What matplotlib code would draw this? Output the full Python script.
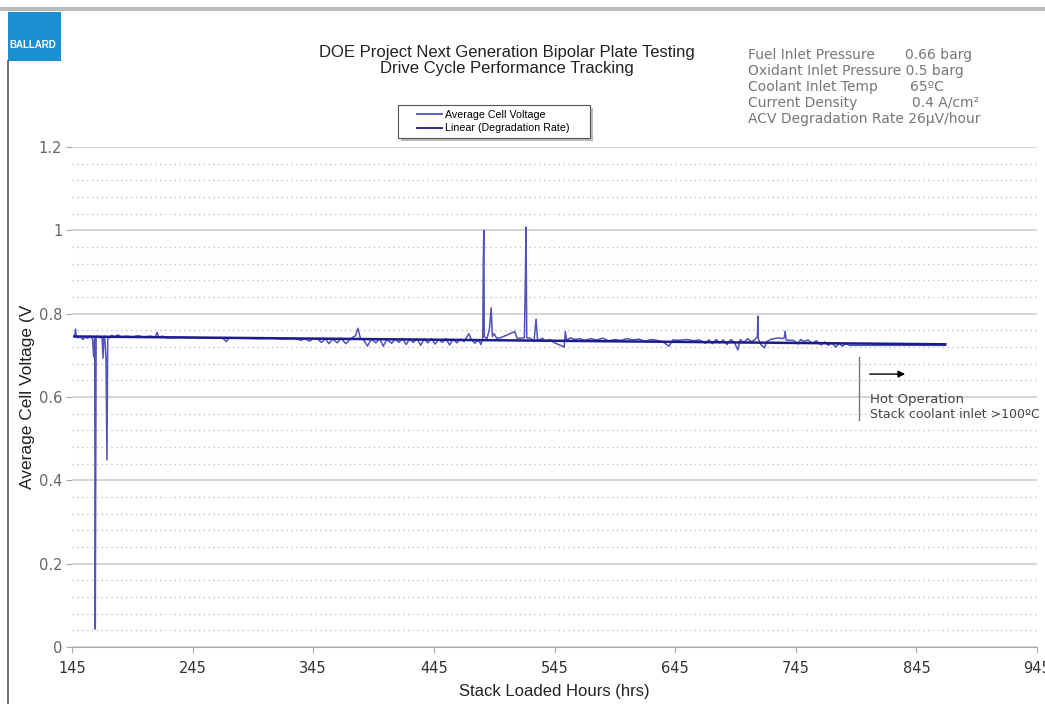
import numpy as np
import matplotlib
matplotlib.use("Agg")
from matplotlib import pyplot as plt
from matplotlib.patches import Rectangle
from matplotlib.lines import Line2D

# Average cell voltage samples (hours, volts)
hours = [147, 148, 148.5, 150, 152, 154, 156, 158, 160, 162, 163, 163.8, 164.3, 165,
         166, 168, 170, 170.7, 171.3, 172, 173.2, 174, 174.6, 176,
         178, 180, 183, 186, 190, 195, 200, 204, 210, 214, 215.5, 217, 220, 224,
         235, 250, 260, 270, 273, 275, 290, 300, 310, 320, 330, 335, 338, 342, 345,
         348, 352, 355, 358, 361, 365, 368, 372, 376, 380, 382, 384, 387, 390, 393,
         397, 400, 403, 406, 410, 413, 416, 419, 422, 425, 428, 431, 434, 437, 440,
         443, 446, 449, 452, 455, 458, 461, 464, 467, 470, 474, 476, 479, 482, 484,
         485.5, 486, 486.4, 486.8, 489, 491, 492.5, 493.5, 495, 497, 500, 505, 512,
         514, 517, 520, 520.8, 521.4, 522, 525, 528, 529.7, 531, 535, 538, 541, 545,
         550, 553, 554, 555, 558, 562, 566, 570, 575, 580, 585, 590, 595, 600, 605,
         610, 615, 620, 625, 630, 635, 640, 643, 648, 655, 660, 665, 670, 673, 676,
         679, 682, 685, 688, 691, 694, 697, 699, 702, 705, 708, 711, 713.2, 713.6,
         714, 716, 719, 721, 724, 727, 731, 734, 735.5, 736.2, 737, 740, 743, 747,
         749, 752, 755, 759, 762, 766, 769, 772, 775, 778, 781, 784, 786, 790, 796,
         869]
volts = [0.745, 0.763, 0.744, 0.742, 0.745, 0.738, 0.744, 0.741, 0.746, 0.740, 0.696, 0.743, 0.043, 0.742,
         0.746, 0.742, 0.744, 0.693, 0.745, 0.746, 0.692, 0.449, 0.745, 0.742,
         0.748, 0.744, 0.749, 0.744, 0.746, 0.744, 0.747, 0.744, 0.746, 0.744, 0.755, 0.744, 0.746, 0.742,
         0.743, 0.742, 0.741, 0.741, 0.733, 0.741, 0.741, 0.740, 0.741, 0.739, 0.740, 0.736, 0.740, 0.734, 0.740,
         0.740, 0.731, 0.740, 0.728, 0.739, 0.730, 0.741, 0.728, 0.740, 0.747, 0.765, 0.742, 0.736, 0.722, 0.739,
         0.730, 0.740, 0.722, 0.738, 0.729, 0.739, 0.731, 0.741, 0.726, 0.739, 0.731, 0.740, 0.724, 0.739, 0.730,
         0.740, 0.727, 0.738, 0.731, 0.740, 0.725, 0.739, 0.730, 0.739, 0.733, 0.752, 0.738, 0.729, 0.737, 0.726,
         0.740, 0.930, 1.000, 0.745, 0.740, 0.762, 0.814, 0.745, 0.752, 0.741, 0.742, 0.748, 0.757,
         0.741, 0.741, 0.742, 0.873, 1.008, 0.742, 0.741, 0.733, 0.787, 0.735, 0.741, 0.733, 0.738, 0.730,
         0.724, 0.720, 0.757, 0.736, 0.742, 0.738, 0.740, 0.736, 0.740, 0.737, 0.741, 0.735, 0.738, 0.736, 0.740,
         0.737, 0.739, 0.734, 0.738, 0.736, 0.732, 0.722, 0.737, 0.736, 0.738, 0.735, 0.737, 0.729, 0.737, 0.728,
         0.738, 0.730, 0.737, 0.726, 0.738, 0.732, 0.713, 0.738, 0.731, 0.740, 0.733, 0.737, 0.745, 0.794,
         0.740, 0.726, 0.718, 0.733, 0.738, 0.740, 0.742, 0.740, 0.742, 0.758, 0.737, 0.736, 0.736, 0.727,
         0.738, 0.733, 0.737, 0.729, 0.735, 0.725, 0.732, 0.724, 0.730, 0.720, 0.728, 0.722, 0.728, 0.724, 0.724,
         0.724]

# Linear fit endpoints (26 uV/hour)
trend_hours = [147, 869]
trend_volts = [0.7453, 0.7265]

x_ticks = [145, 245, 345, 445, 545, 645, 745, 845, 945]
y_ticks = [0, 0.2, 0.4, 0.6, 0.8, 1, 1.2]

info_labels = ["Fuel Inlet Pressure", "Oxidant Inlet Pressure 0.5 barg", "Coolant Inlet Temp",
               "Current Density", "ACV Degradation Rate 26\u00b5V/hour"]
info_values = ["0.66 barg", "", "65\u00baC", "0.4 A/cm\u00b2", ""]

narrow = ["Liberation Sans Narrow", "Liberation Sans", "DejaVu Sans"]

fig = plt.figure(figsize=(10.45, 7.04), dpi=100)
W, H = 1045.0, 704.0
ax = fig.add_axes([72 / W, 1 - 647 / H, (1037 - 72) / W, (647 - 147) / H])

l1, = ax.plot(hours, volts, color="#5252b8", lw=1.1, label="Average Cell Voltage", zorder=3)
l2, = ax.plot(trend_hours, trend_volts, color="#1c1c8c", lw=1.8, label="Linear (Degradation Rate)", zorder=4)

ax.set_xlim(145, 945)
ax.set_ylim(0, 1.2)
ax.set_xticks(x_ticks)
ax.set_yticks(y_ticks)
ax.set_yticklabels(["0", "0.2", "0.4", "0.6", "0.8", "1", "1.2"])
ax.set_yticks(np.arange(0, 1.2001, 0.04), minor=True)
ax.grid(True, axis="y", which="major", color="#cfcfcf", lw=1.2)
ax.grid(True, axis="y", which="minor", color="#c4c4c4", lw=1.0, linestyle=(0, (1, 2.5)))
ax.tick_params(axis="y", which="minor", length=0)
ax.tick_params(axis="y", which="major", length=4, color="#aaaaaa", labelcolor="#666666", labelsize=10.5, pad=3)
ax.tick_params(axis="x", length=4, color="#aaaaaa", labelcolor="#333333", labelsize=10.5, pad=6)
for s in ["top", "right", "left"]:
    ax.spines[s].set_visible(False)
ax.spines["bottom"].set_color("#aaaaaa")
ax.set_axisbelow(True)

ax.set_xlabel("Stack Loaded Hours (hrs)", family=narrow, fontsize=12, color="#222222", labelpad=6)
fig.text(28 / W, 1 - 397 / H, "Average Cell Voltage (V", rotation=90, ha="center", va="center",
         fontsize=12.5, color="#222222", family=["Liberation Sans", "DejaVu Sans"])

# Titles
fig.text(507 / W, 1 - 52 / H, "DOE Project Next Generation Bipolar Plate Testing", ha="center", va="center",
         fontsize=12, family=narrow, color="#222222")
fig.text(507 / W, 1 - 68 / H, "Drive Cycle Performance Tracking", ha="center", va="center",
         fontsize=12, family=narrow, color="#222222")

# Test conditions
value_x = [905, 0, 910, 912, 0]
for i in range(len(info_labels)):
    y = 1 - (55 + 16 * i) / H
    fig.text(748 / W, y, info_labels[i], ha="left", va="center", fontsize=10, color="#777777")
    if info_values[i]:
        fig.text(value_x[i] / W, y, info_values[i], ha="left", va="center", fontsize=10, color="#777777")

# Legend box drawn by hand, entries from the plotted lines
fig.patches.append(Rectangle((401 / W, 1 - 141 / H), 192 / W, 33 / H, transform=fig.transFigure,
                             facecolor="#bbbbbb", edgecolor="none", zorder=1))
fig.patches.append(Rectangle((398 / W, 1 - 138 / H), 192 / W, 33 / H, transform=fig.transFigure,
                             facecolor="white", edgecolor="#555555", lw=0.8, zorder=2))
leg = fig.legend(handles=[l1, l2], loc="center left", bbox_to_anchor=(412 / W, 1 - 121.5 / H),
                 bbox_transform=fig.transFigure, prop={"family": narrow, "size": 7.7}, frameon=False,
                 handlelength=2.3, borderpad=0.0, labelspacing=0.35, handletextpad=0.3)
leg.set_zorder(5)
for h in leg.get_lines():
    h.set_linewidth(1.3)

# Hot operation marker
ax.plot([797.6, 797.6], [0.545, 0.696], color="#777777", lw=1.0, clip_on=False)
ax.annotate("", xy=(838, 0.655), xytext=(804, 0.655),
            arrowprops=dict(arrowstyle="-|>", color="black", lw=1.0, mutation_scale=10))
ax.text(806.5, 0.595, "Hot Operation", fontsize=9.5, color="#444444", va="center", clip_on=False)
ax.text(806.5, 0.557, "Stack coolant inlet >100\u00baC", fontsize=9, color="#444444", va="center",
        clip_on=False)

# Logo and page frame
fig.patches.append(Rectangle((8 / W, 1 - 61 / H), 53 / W, 49 / H, transform=fig.transFigure,
                             facecolor="#1b8fd2", edgecolor="none"))
fig.text(33 / W, 1 - 45 / H, "BALLARD", ha="center", va="center", fontsize=7, color="white",
         fontweight="bold", family=narrow)
fig.lines.append(Line2D([8 / W, 8 / W], [0, 1 - 61 / H], transform=fig.transFigure, color="#555555", lw=1.2))
fig.lines.append(Line2D([0, 1], [1 - 9 / H, 1 - 9 / H], transform=fig.transFigure, color="#bbbbbb", lw=3))

plt.savefig("out.png", dpi=100)
plt.close("all")
